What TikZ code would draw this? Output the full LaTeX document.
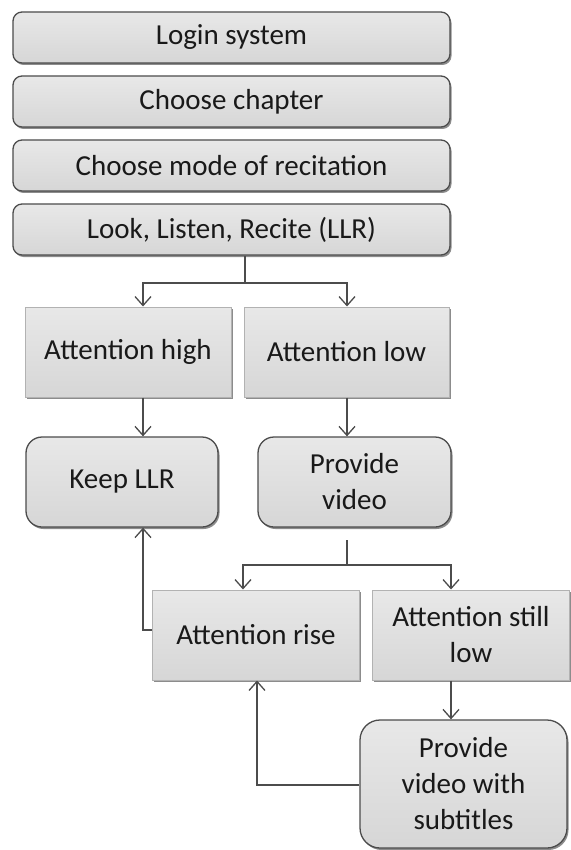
\documentclass[tikz,border=0pt]{standalone}
\usepackage{fontspec}
\setmainfont{Carlito}
\usetikzlibrary{arrows.meta,shadows}
\begin{document}
\begin{tikzpicture}[x=1pt,y=-1pt,
  font=\fontsize{29}{36}\selectfont,
  every node/.style={text=black!90, align=center, inner sep=0pt},
  base/.style={draw, line width=1.3pt, top color=gray!18, bottom color=gray!32,
    drop shadow={shadow xshift=1.5pt, shadow yshift=-2pt, opacity=0.45, fill=black}},
  roundbox/.style={base, draw=black!70, rounded corners=9pt},
  biground/.style={base, draw=black!70, rounded corners=16pt},
  squarebox/.style={base, draw=gray!60, line width=1pt},
  flow/.style={draw=black!70, line width=1.3pt, -{Straight Barb[length=9pt,width=16pt,line width=1.3pt]}},
  plain/.style={draw=black!70, line width=1.3pt}
]
\useasboundingbox (0,0) rectangle (570,850);

% main sequence
\node[roundbox, minimum width=437pt, minimum height=51pt] (login) at (231.5,37.5) {Login system};
\node[roundbox, minimum width=437pt, minimum height=51pt] (chapter) at (231.5,101.5) {Choose chapter};
\node[roundbox, minimum width=437pt, minimum height=51pt] (mode) at (231.5,165.5) {Choose mode of recitation};
\node[roundbox, minimum width=437pt, minimum height=51pt] (llr) at (231.5,229.5) {Look, Listen, Recite (LLR)};

% first split
\node[squarebox, minimum width=206pt, minimum height=90pt] (high) at (128,352) {Attention high};
\node[squarebox, minimum width=205pt, minimum height=90pt] (low) at (346.5,352) {Attention low};
\node[biground, minimum width=192pt, minimum height=90pt] (keep) at (122,482) {Keep LLR};
\node[biground, minimum width=193pt, minimum height=90pt] (video) at (354.5,482) {Provide\\video};

% second split
\node[squarebox, minimum width=207pt, minimum height=90pt] (rise) at (256,635) {Attention rise};
\node[squarebox, minimum width=197pt, minimum height=90pt] (still) at (471,635) {Attention still\\low};
\node[biground, rounded corners=20pt, minimum width=207pt, minimum height=128pt] (subs) at (463.5,784) {Provide\\video with\\subtitles};

% branch points
\coordinate (j1) at (245,283);
\coordinate (hx) at (143,283);
\coordinate (lx) at (347,283);
\coordinate (v0) at (347,540);
\coordinate (j2) at (347,565);
\coordinate (rx) at (243,565);
\coordinate (sx) at (451,565);
\coordinate (fb1) at (257,785);
\coordinate (fb2) at (143,630);

% connectors
\draw[plain] (llr.south -| j1) -- (j1);
\draw[flow] (j1) -- (hx) -- (high.north -| hx);
\draw[flow] (j1) -- (lx) -- (low.north -| lx);
\draw[flow] (high.south -| hx) -- (keep.north -| hx);
\draw[flow] (low.south -| lx) -- (video.north -| lx);
\draw[plain] (v0) -- (j2);
\draw[flow] (j2) -- (rx) -- (rise.north -| rx);
\draw[flow] (j2) -- (sx) -- (still.north -| sx);
\draw[flow] (still.south -| sx) -- (subs.north -| sx);
\draw[flow] (subs.west |- fb1) -- (fb1) -- (rise.south -| fb1);
\draw[flow] (rise.west |- fb2) -- (fb2) -- (keep.south -| fb2);
\end{tikzpicture}
\end{document}
